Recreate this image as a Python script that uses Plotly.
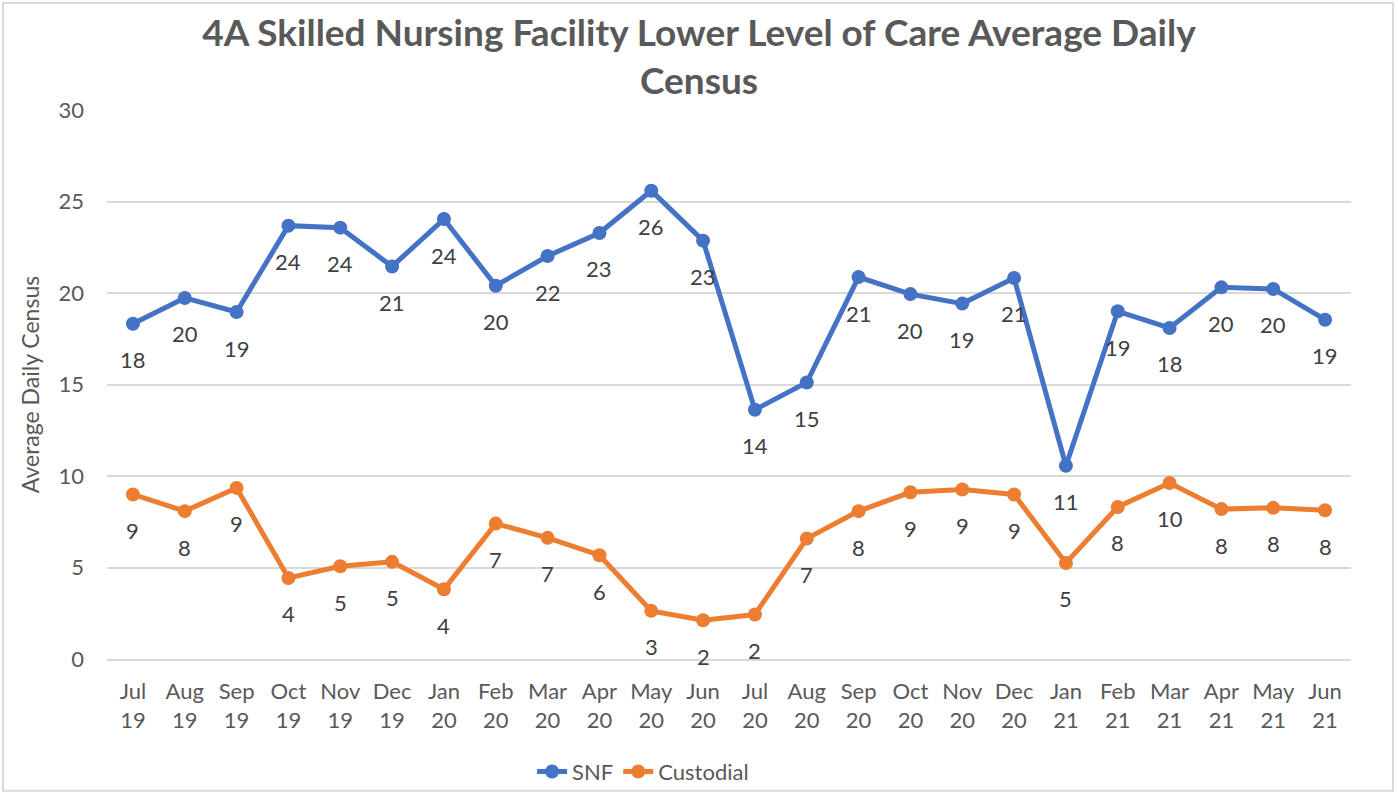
import plotly.graph_objects as go

months = ["Jul<br>19", "Aug<br>19", "Sep<br>19", "Oct<br>19", "Nov<br>19", "Dec<br>19",
          "Jan<br>20", "Feb<br>20", "Mar<br>20", "Apr<br>20", "May<br>20", "Jun<br>20",
          "Jul<br>20", "Aug<br>20", "Sep<br>20", "Oct<br>20", "Nov<br>20", "Dec<br>20",
          "Jan<br>21", "Feb<br>21", "Mar<br>21", "Apr<br>21", "May<br>21", "Jun<br>21"]

snf = [18.32, 19.73, 18.96, 23.68, 23.57, 21.45, 24.04, 20.40, 22.02, 23.28, 25.59, 22.86,
       13.62, 15.11, 20.87, 19.94, 19.42, 20.82, 10.56, 19.00, 18.09, 20.31, 20.22, 18.54]

custodial = [8.99, 8.08, 9.35, 4.43, 5.07, 5.31, 3.81, 7.40, 6.62, 5.67, 2.63, 2.12,
             2.43, 6.58, 8.08, 9.11, 9.26, 8.99, 5.25, 8.31, 9.62, 8.19, 8.26, 8.13]

y_ticks = [0, 5, 10, 15, 20, 25, 30]

SNF_COLOR = "#4472C4"
CUST_COLOR = "#ED7D31"
FONT = "Lato"

fig = go.Figure()
for name, vals, color in [("SNF", snf, SNF_COLOR), ("Custodial", custodial, CUST_COLOR)]:
    fig.add_trace(go.Scatter(
        x=months, y=vals, name=name, mode="lines+markers",
        line=dict(color=color, width=5),
        marker=dict(color=color, size=14),
    ))

annotations = []
for vals in (snf, custodial):
    for m, v in zip(months, vals):
        annotations.append(dict(
            x=m, y=v, xref="x", yref="y", text=f"{round(v)}", showarrow=False,
            yshift=-36, font=dict(family=FONT, size=22, color="#404040"),
        ))

fig.update_layout(
    width=1398, height=794,
    margin=dict(l=107, r=47, t=110, b=135, autoexpand=False),
    paper_bgcolor="white", plot_bgcolor="white",
    font=dict(family=FONT, color="#595959", size=22),
    title=dict(
        text="<b>4A Skilled Nursing Facility Lower Level of Care Average Daily<br>Census</b>",
        x=0.5, xanchor="center", xref="container",
        y=1 - 46 / 794, yanchor="middle", yref="container",
        font=dict(family=FONT, size=37, color="#595959"),
    ),
    xaxis=dict(
        type="category", range=[-0.5, 23.5], showgrid=False, automargin=False,
        showline=True, linecolor="#d9d9d9", linewidth=1.5,
        ticks="", ticklabelstandoff=12, tickfont=dict(size=22, color="#595959"),
    ),
    yaxis=dict(
        range=[0, 30], tickvals=y_ticks, showgrid=True, gridcolor="#d9d9d9", gridwidth=1.5,
        zeroline=False, showline=False, ticks="", ticklabelstandoff=22, automargin=False,
        tickfont=dict(size=22, color="#595959"),
        title=dict(text="Average Daily Census", font=dict(size=23, color="#595959"), standoff=12),
    ),
    legend=dict(
        orientation="h", xref="container", yref="container",
        x=0.46, xanchor="center", y=0.028, yanchor="middle",
        bgcolor="rgba(0,0,0,0)",
        font=dict(size=22, color="#595959"), tracegroupgap=0,
    ),
    annotations=annotations,
    shapes=[dict(type="rect", xref="paper", yref="paper",
                 x0=-0.0836, x1=1.0338, y0=-0.24, y1=1.195,
                 line=dict(color="#d9d9d9", width=2), layer="below")],
)

fig.write_html(
    "out.html",
    config={"displayModeBar": False},
    post_script="document.body.style.margin='0';document.body.style.overflow='hidden';",
)
